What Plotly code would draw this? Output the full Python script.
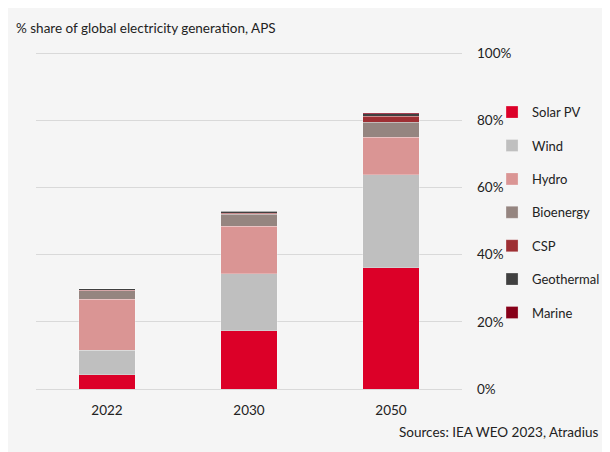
import plotly.graph_objects as go

years = ["2022", "2030", "2050"]
series_names = ["Solar PV", "Wind", "Hydro", "Bioenergy", "CSP", "Geothermal", "Marine"]
solar_pv = [4.2, 17.3, 36.1]
wind = [7.4, 17.1, 27.8]
hydro = [15.1, 14.1, 11.1]
bioenergy = [2.6, 3.6, 4.5]
csp = [0.1, 0.3, 1.7]
geothermal = [0.4, 0.5, 0.8]
marine = [0.05, 0.1, 0.3]
colors = ["#dc0028", "#bfbfbf", "#da9594", "#958580", "#9e2f33", "#404040", "#870019"]
tick_vals = [0, 20, 40, 60, 80, 100]
tick_text = ["0%", "20%", "40%", "60%", "80%", "100%"]

values = [solar_pv, wind, hydro, bioenergy, csp, geothermal, marine]
FONT = "Lato"
FS = 13.5

fig = go.Figure()
for i, (name, vals, col) in enumerate(zip(series_names, values, colors)):
    fig.add_trace(go.Bar(
        x=years, y=vals, name=name, legendgroup=f"g{i}",
        marker=dict(color=col, line=dict(color="rgba(255,255,255,0.5)", width=0.5)),
    ))

fig.update_layout(
    width=602, height=444,
    barmode="stack", bargap=0.6,
    paper_bgcolor="#f5f5f5", plot_bgcolor="#f5f5f5",
    margin=dict(l=28, r=148, t=44, b=63, autoexpand=False),
    font=dict(family=FONT, size=FS, color="#222222"),
    showlegend=True,
    legend=dict(
        x=1.0705, xanchor="left", y=0.866, yanchor="top",
        traceorder="grouped", tracegroupgap=13.5,
        font=dict(size=13, color="#222222"),
        bgcolor="rgba(0,0,0,0)",
    ),
    xaxis=dict(showgrid=False, showline=False, ticks="", tickfont=dict(size=FS),
               ticklabelstandoff=11),
    yaxis=dict(
        side="right", range=[0, 100.4], tickvals=tick_vals, ticktext=tick_text,
        showgrid=True, gridcolor="#d9d9d9", gridwidth=1, zeroline=True,
        zerolinecolor="#d9d9d9", zerolinewidth=1, showline=False,
        ticklabelstandoff=14, tickfont=dict(size=FS),
    ),
    annotations=[
        dict(text="% share of global electricity generation, APS", xref="paper", yref="paper",
             x=-0.052, y=1.0715, xanchor="left", yanchor="middle", showarrow=False,
             font=dict(size=FS, color="#222222")),
        dict(text="Sources: IEA WEO 2023, Atradius", xref="paper", yref="paper",
             x=1.325, y=-0.128, xanchor="right", yanchor="middle", showarrow=False,
             font=dict(size=FS, color="#222222")),
    ],
)

fig.write_html("out.html")
